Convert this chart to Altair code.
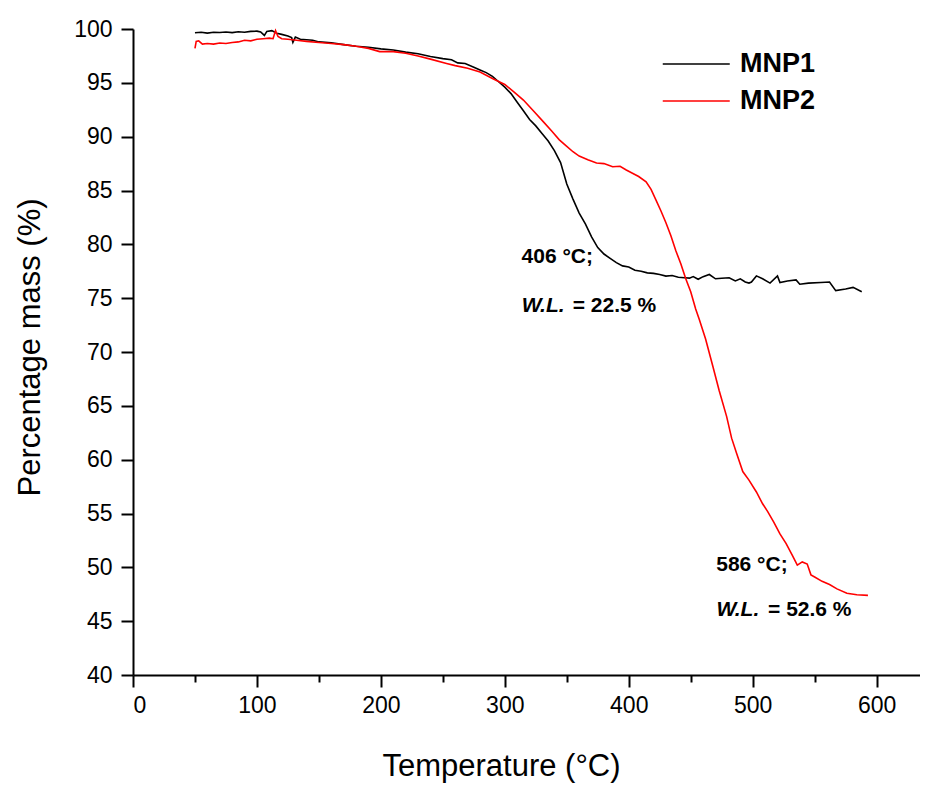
import altair as alt
import pandas as pd

# ---- data ----
mnp1_T = [50, 55, 60, 65, 70, 75, 80, 85, 90, 95, 100, 103, 106, 108, 112, 116, 120, 125, 128, 129, 131,
          135, 140, 145, 150, 160, 170, 180, 190, 200, 210, 220, 230, 240, 250, 257, 262, 268, 275, 280,
          285, 290, 295, 300, 305, 310, 315, 320, 325, 330, 335, 340, 345, 350, 355, 360, 365, 370, 375,
          380, 385, 390, 395, 400, 405, 410, 415, 420, 425, 430, 435, 440, 445, 449, 452, 456, 460, 465,
          470, 475, 481, 486, 490, 494, 497, 499, 503, 508, 514, 520, 522, 528, 535, 538, 545, 555, 562,
          567, 575, 581, 588]
mnp1_M = [99.65, 99.7, 99.62, 99.7, 99.68, 99.72, 99.66, 99.74, 99.7, 99.78, 99.8, 99.72, 99.4, 99.78,
          99.85, 99.6, 99.5, 99.35, 99.2, 98.75, 99.25, 99.05, 99.0, 98.95, 98.8, 98.72, 98.55, 98.4, 98.3,
          98.15, 98.05, 97.85, 97.7, 97.45, 97.25, 97.15, 96.85, 96.8, 96.45, 96.2, 95.95, 95.6, 95.1, 94.6,
          94.0, 93.2, 92.4, 91.6, 91.0, 90.3, 89.6, 88.7, 87.6, 85.6, 84.2, 82.9, 81.9, 80.7, 79.7, 79.1,
          78.7, 78.3, 78.0, 77.9, 77.6, 77.5, 77.35, 77.3, 77.2, 77.05, 77.1, 76.95, 76.9, 76.86, 77.0,
          76.75, 77.0, 77.2, 76.8, 76.85, 76.9, 76.6, 76.8, 76.5, 76.4, 76.5, 77.07, 76.8, 76.4, 77.07,
          76.45, 76.6, 76.7, 76.3, 76.4, 76.45, 76.5, 75.7, 75.85, 76.0, 75.6]

mnp2_T = [50, 51, 53, 56, 60, 65, 70, 75, 80, 85, 90, 95, 100, 105, 110, 113, 115, 117, 120, 125, 132,
          140, 150, 160, 170, 180, 190, 199, 210, 220, 230, 240, 253, 260, 270, 280, 290, 300, 308, 315,
          323, 331, 338, 344, 350, 355, 360, 367, 374, 380, 387, 393, 398, 403, 408, 414, 418, 422, 426,
          430, 434, 438, 442, 446, 450, 454, 457, 462, 468, 473, 479, 483, 487, 492, 497, 503, 508, 512,
          517, 522, 527, 532, 536, 540, 544, 547, 550, 556, 562, 568, 576, 584, 593]
mnp2_M = [98.2, 98.85, 98.9, 98.6, 98.65, 98.6, 98.7, 98.65, 98.75, 98.8, 98.95, 98.9, 99.05, 99.1, 99.15,
          99.1, 99.85, 99.3, 99.1, 99.05, 98.95, 98.85, 98.75, 98.65, 98.55, 98.4, 98.2, 97.9, 97.9, 97.75,
          97.5, 97.2, 96.8, 96.6, 96.35, 96.0, 95.4, 94.85, 94.1, 93.4, 92.4, 91.4, 90.5, 89.7, 89.1, 88.6,
          88.2, 87.85, 87.55, 87.5, 87.2, 87.25, 86.9, 86.6, 86.3, 85.8, 85.1, 84.1, 83.1, 82.0, 80.8, 79.4,
          78.2, 76.8, 75.6, 74.0, 73.0, 71.2, 68.6, 66.4, 64.0, 62.0, 60.6, 58.9, 58.1, 57.0, 55.9, 55.2,
          54.2, 53.1, 52.2, 51.1, 50.2, 50.5, 50.3, 49.3, 49.1, 48.7, 48.4, 48.0, 47.6, 47.45, 47.4]

series_names = ["MNP1", "MNP2"]
series_colors = ["black", "red"]

# annotations (data coordinates)
ann_plain_T = [313.5, 354.8, 470.6, 512.4]
ann_plain_M = [78.25, 73.75, 49.68, 45.47]
ann_plain_text = ["406 °C;", "= 22.5 %", "586 °C;", "= 52.6 %"]
ann_ital_T = [313.7, 470.8]
ann_ital_M = [73.75, 45.47]
ann_ital_text = ["W.L.", "W.L."]

x_ticks = list(range(0, 601, 50))
y_ticks = [40 + 2.5 * i for i in range(25)]

df = pd.concat([
    pd.DataFrame({"T": mnp1_T, "M": mnp1_M, "series": "MNP1"}),
    pd.DataFrame({"T": mnp2_T, "M": mnp2_M, "series": "MNP2"}),
])
ann_plain = pd.DataFrame({"T": ann_plain_T, "M": ann_plain_M, "t": ann_plain_text})
ann_ital = pd.DataFrame({"T": ann_ital_T, "M": ann_ital_M, "t": ann_ital_text})

FONT = "Liberation Sans"

xscale = alt.Scale(domain=[0, 635], nice=False, zero=False)
yscale = alt.Scale(domain=[40, 100], nice=False, zero=False)

x_axis = alt.Axis(
    values=x_ticks, title="Temperature (°C)", grid=False,
    labelExpr="datum.value % 100 === 0 ? datum.label : ''", labelOverlap=False,
    tickSize={"condition": {"test": "datum.value % 100 === 0", "value": 12}, "value": 7},
    labelPadding=7, labelFontSize=23, labelFont=FONT, labelColor="black",
    titleFont=FONT, titleFontSize=31, titleFontWeight="normal", titleColor="black",
    titleX=368, titleY=100, titleBaseline="alphabetic",
    domainColor="black", domainWidth=2, tickColor="black", tickWidth=2,
)
y_axis = alt.Axis(
    values=y_ticks, title="Percentage mass (%)", grid=False,
    labelExpr="datum.value % 5 === 0 ? datum.label : ''", labelOverlap=False,
    tickSize={"condition": {"test": "datum.value % 5 === 0", "value": 12}, "value": 7},
    labelPadding=9, labelFontSize=23, labelFont=FONT, labelColor="black",
    titleFont=FONT, titleFontSize=31, titleFontWeight="normal", titleColor="black",
    titleX=-103, titleY=318, titleAngle=270, titleBaseline="middle", titleAlign="center",
    domainColor="black", domainWidth=2, tickColor="black", tickWidth=2,
)

lines = alt.Chart(df).mark_line(strokeWidth=1.6).encode(
    x=alt.X("T:Q", scale=xscale, axis=x_axis),
    y=alt.Y("M:Q", scale=yscale, axis=y_axis),
    color=alt.Color(
        "series:N",
        scale=alt.Scale(domain=series_names, range=series_colors),
        legend=alt.Legend(
            title=None, orient="none", legendX=562, legendY=17,
            symbolType="M-3,0H1", symbolSize=1122, symbolStrokeWidth=1.6,
            labelFont=FONT, labelFontSize=27, labelFontWeight="bold", labelColor="black",
            labelOffset=9, rowPadding=6,
        ),
    ),
    order=alt.Order("T:Q"),
)

txt_plain = alt.Chart(ann_plain).mark_text(
    align="left", baseline="alphabetic", font=FONT, fontSize=21, fontWeight="bold", color="black"
).encode(x=alt.X("T:Q", scale=xscale), y=alt.Y("M:Q", scale=yscale), text="t:N")

txt_ital = alt.Chart(ann_ital).mark_text(
    align="left", baseline="alphabetic", font=FONT, fontSize=21, fontWeight="bold",
    fontStyle="italic", color="black"
).encode(x=alt.X("T:Q", scale=xscale), y=alt.Y("M:Q", scale=yscale), text="t:N")

chart = alt.layer(lines, txt_plain, txt_ital).properties(
    width=787, height=646,
    autosize=alt.AutoSizeParams(type="none"),
    padding={"left": 125, "top": 21, "right": 0, "bottom": 108},
    background="white",
).configure_view(stroke=None)

chart.save("out.html", embed_options={"renderer": "svg", "actions": False})
